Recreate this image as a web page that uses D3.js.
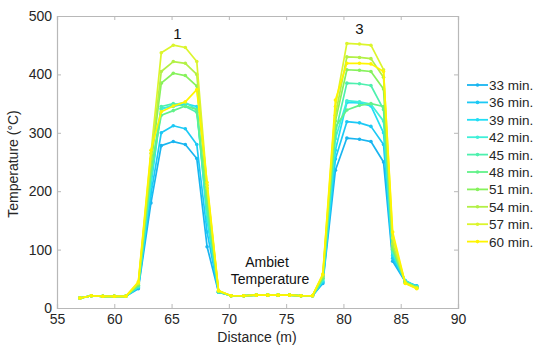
<!DOCTYPE html>
<html>
<head>
<meta charset="utf-8">
<script src="https://cdn.jsdelivr.net/npm/d3@7"></script>
<style>
  html, body { margin: 0; padding: 0; background: #fff; }
  svg { display: block; font-family: "Liberation Sans", Arial, sans-serif; }
</style>
</head>
<body>
<svg id="chart" width="533" height="345"></svg>
<script>
// Sensor positions along the line (m)
const distance = [57, 58, 59, 60, 61, 62.1, 63.2, 64.1, 65.15, 66.2, 67.2, 68.1, 69.1,
  70.2, 71.3, 72.4, 73.4, 74.3, 75.3, 76.3, 77.3, 78.2, 79.3, 80.3, 81.4, 82.4, 83.5,
  84.3, 85.4, 86.4];

const seriesNames = ["33 min.", "36 min.", "39 min.", "42 min.", "45 min.",
  "48 min.", "51 min.", "54 min.", "57 min.", "60 min."];

const seriesColors = ["#19b5f0", "#1cc9f5", "#22def5", "#3ff0d8", "#4ef0ae",
  "#62f28a", "#86f25c", "#b2f046", "#dcf52c", "#fff500"];

// Temperature (°C) at each position, one array per elapsed time
const t33 = [17, 21, 20, 20, 20, 33, 180, 278, 285, 280, 256, 105, 27, 21, 21, 22, 22, 22, 22, 21, 21, 42, 236, 291, 289, 285, 250, 80, 45, 38];
const t36 = [17, 21, 20, 20, 20, 35, 195, 300, 312, 307, 280, 130, 27, 21, 21, 22, 22, 22, 22, 21, 21, 44, 255, 319, 317, 311, 280, 85, 46, 37];
const t39 = [17, 21, 20, 20, 20, 36, 210, 342, 345, 350, 345, 150, 28, 21, 21, 22, 22, 22, 22, 21, 21, 46, 270, 352, 351, 346, 300, 90, 47, 37];
const t42 = [17, 21, 20, 20, 20, 37, 220, 340, 348, 352, 340, 160, 28, 21, 21, 22, 22, 22, 22, 21, 21, 48, 290, 355, 353, 349, 320, 95, 46, 36];
const t45 = [17, 21, 20, 20, 20, 38, 230, 345, 350, 345, 335, 170, 28, 21, 21, 22, 22, 22, 22, 21, 21, 50, 300, 385, 384, 381, 340, 100, 45, 36];
const t48 = [17, 21, 20, 20, 20, 39, 235, 330, 338, 346, 340, 180, 28, 21, 21, 22, 22, 22, 22, 21, 21, 51, 310, 339, 347, 350, 345, 100, 44, 35];
const t51 = [17, 21, 20, 20, 20, 40, 245, 385, 402, 398, 380, 195, 29, 21, 21, 22, 22, 22, 22, 21, 21, 53, 320, 408, 407, 405, 375, 105, 44, 35];
const t54 = [17, 21, 20, 20, 20, 42, 255, 405, 422, 419, 400, 205, 29, 21, 21, 22, 22, 22, 22, 21, 21, 55, 330, 430, 429, 427, 395, 110, 43, 34];
const t57 = [17, 21, 20, 20, 20, 43, 265, 437, 450, 446, 422, 210, 29, 21, 21, 22, 22, 22, 22, 21, 21, 57, 345, 453, 452, 450, 408, 120, 43, 34];
const t60 = [17, 21, 20, 20, 20, 45, 270, 336, 346, 353, 374, 215, 30, 21, 21, 22, 22, 22, 22, 21, 21, 58, 356, 419, 419, 418, 405, 130, 42, 33];

const seriesValues = [t33, t36, t39, t42, t45, t48, t51, t54, t57, t60];

const xTicks = [55, 60, 65, 70, 75, 80, 85, 90];
const yTicks = [0, 100, 200, 300, 400, 500];

const svg = d3.select("#chart");
const plot = { left: 57, right: 458, top: 16, bottom: 308 };

const x = d3.scaleLinear().domain([55, 90]).range([plot.left, plot.right]);
const y = d3.scaleLinear().domain([0, 500]).range([plot.bottom, plot.top]);

const axisColor = "#b8b8b8";
const textColor = "#262626";

function styleAxis(g, showLabels) {
  g.select(".domain").attr("stroke", axisColor).attr("stroke-width", 1.2);
  g.selectAll(".tick line").attr("stroke", axisColor);
  g.selectAll(".tick text")
    .attr("fill", textColor)
    .style("font-size", "14px")
    .style("font-family", "Liberation Sans, Arial, sans-serif")
    .style("display", showLabels ? null : "none");
}

// Bottom and left axes with labels, ticks pointing inward
svg.append("g")
  .attr("transform", `translate(0,${plot.bottom})`)
  .call(d3.axisBottom(x).tickValues(xTicks).tickSize(-4).tickPadding(6).tickFormat(d3.format("d")))
  .call(g => styleAxis(g, true));

svg.append("g")
  .attr("transform", `translate(${plot.left},0)`)
  .call(d3.axisLeft(y).tickValues(yTicks).tickSize(-4).tickPadding(5).tickFormat(d3.format("d")))
  .call(g => styleAxis(g, true));

// Top and right frame
svg.append("g")
  .attr("transform", `translate(0,${plot.top})`)
  .call(d3.axisTop(x).tickValues(xTicks).tickSize(-4).tickFormat(""))
  .call(g => styleAxis(g, false));

svg.append("g")
  .attr("transform", `translate(${plot.right},0)`)
  .call(d3.axisRight(y).tickValues(yTicks).tickSize(-4).tickFormat(""))
  .call(g => styleAxis(g, false));

// Temperature profiles
const line = d3.line()
  .x((d, i) => x(distance[i]))
  .y(d => y(d));

seriesValues.forEach((vals, s) => {
  const g = svg.append("g");
  g.append("path")
    .datum(vals)
    .attr("fill", "none")
    .attr("stroke", seriesColors[s])
    .attr("stroke-width", 1.7)
    .attr("stroke-linejoin", "round")
    .attr("d", line);
  g.selectAll("circle")
    .data(vals)
    .join("circle")
    .attr("cx", (d, i) => x(distance[i]))
    .attr("cy", d => y(d))
    .attr("r", 1.8)
    .attr("fill", seriesColors[s]);
});

// Annotations
svg.append("text").attr("x", x(65.5)).attr("y", 39)
  .attr("text-anchor", "middle").attr("fill", "#111").style("font-size", "15px").text("1");
svg.append("text").attr("x", x(81.4)).attr("y", 34)
  .attr("text-anchor", "middle").attr("fill", "#111").style("font-size", "15px").text("3");
svg.append("text").attr("x", 267).attr("y", 267)
  .attr("text-anchor", "middle").attr("fill", "#111").style("font-size", "14px").text("Ambiet");
svg.append("text").attr("x", 270).attr("y", 284)
  .attr("text-anchor", "middle").attr("fill", "#111").style("font-size", "14px").text("Temperature");

// Axis titles
svg.append("text").attr("x", 257).attr("y", 342)
  .attr("text-anchor", "middle").attr("fill", textColor).style("font-size", "14px").text("Distance (m)");
svg.append("text")
  .attr("transform", "translate(18,164) rotate(-90)")
  .attr("text-anchor", "middle").attr("fill", textColor).style("font-size", "14px").text("Temperature (°C)");

// Legend
const legend = svg.append("g");
seriesNames.forEach((name, s) => {
  const ly = 85 + s * 17.4;
  legend.append("line")
    .attr("x1", 467).attr("x2", 488).attr("y1", ly).attr("y2", ly)
    .attr("stroke", seriesColors[s]).attr("stroke-width", 1.8);
  legend.append("circle")
    .attr("cx", 477.5).attr("cy", ly).attr("r", 1.8).attr("fill", seriesColors[s]);
  legend.append("text")
    .attr("x", 489).attr("y", ly + 5)
    .attr("fill", textColor).style("font-size", "13.5px").text(name);
});
</script>
</body>
</html>
